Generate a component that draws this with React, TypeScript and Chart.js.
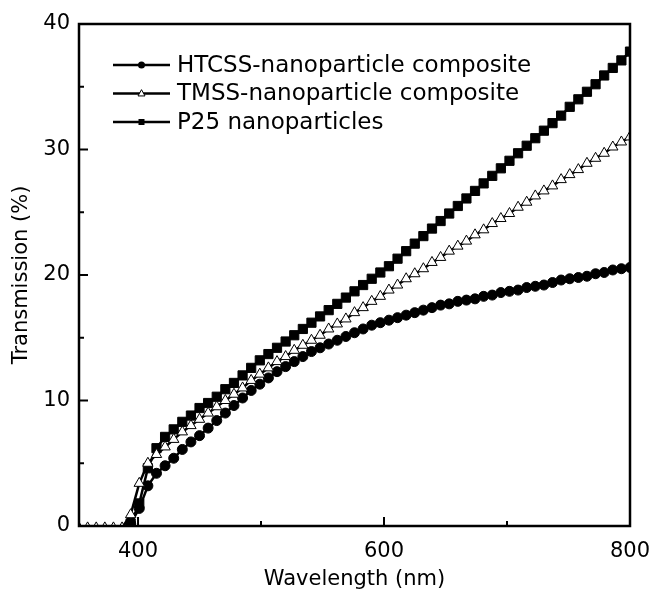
import React, { useEffect, useRef } from 'react';
import { Chart, registerables } from 'chart.js';

Chart.register(...registerables);

const FONT = '"DejaVu Sans", "Liberation Sans", Arial, sans-serif';

const wavelengths = [
  352, 359, 366, 373, 380, 387, 394, 401, 408, 415, 422, 429, 436, 443, 450, 457,
  464, 471, 478, 485, 492, 499, 506, 513, 520, 527, 534, 541, 548, 555, 562, 569,
  576, 583, 590, 597, 604, 611, 618, 625, 632, 639, 646, 653, 660, 667, 674, 681,
  688, 695, 702, 709, 716, 723, 730, 737, 744, 751, 758, 765, 772, 779, 786, 793, 800,
];

const htcss = [
  -0.4, -0.4, -0.4, -0.4, -0.4, -0.4, 0.2, 1.4, 3.2, 4.2, 4.8, 5.4, 6.1, 6.7, 7.2, 7.8,
  8.4, 9.0, 9.6, 10.2, 10.8, 11.3, 11.8, 12.3, 12.7, 13.1, 13.5, 13.9, 14.2, 14.5, 14.8, 15.1,
  15.4, 15.7, 16.0, 16.2, 16.4, 16.6, 16.8, 17.0, 17.2, 17.4, 17.6, 17.7, 17.9, 18.0, 18.1, 18.3,
  18.4, 18.6, 18.7, 18.8, 19.0, 19.1, 19.2, 19.4, 19.6, 19.7, 19.8, 19.9, 20.1, 20.2, 20.4, 20.5, 20.6,
];

const tmss = [
  -0.15, -0.15, -0.15, -0.15, -0.15, -0.15, 0.9, 3.4, 5.0, 5.7, 6.3, 6.9, 7.5, 8.0, 8.5, 9.0,
  9.5, 10.0, 10.5, 11.0, 11.6, 12.1, 12.6, 13.1, 13.5, 14.0, 14.4, 14.8, 15.2, 15.7, 16.1, 16.5,
  17.0, 17.4, 17.9, 18.3, 18.8, 19.2, 19.7, 20.1, 20.5, 21.0, 21.4, 21.9, 22.3, 22.7, 23.2, 23.6,
  24.1, 24.5, 24.9, 25.4, 25.8, 26.3, 26.7, 27.1, 27.6, 28.0, 28.4, 28.9, 29.3, 29.7, 30.2, 30.6, 31.0,
];

const p25 = [
  -0.4, -0.4, -0.4, -0.4, -0.4, -0.4, 0.2, 1.8, 4.6, 6.2, 7.1, 7.7, 8.3, 8.8, 9.4, 9.8,
  10.3, 10.9, 11.4, 12.0, 12.6, 13.2, 13.7, 14.2, 14.7, 15.2, 15.7, 16.2, 16.7, 17.2, 17.7, 18.2,
  18.7, 19.2, 19.7, 20.2, 20.7, 21.3, 21.9, 22.5, 23.1, 23.7, 24.3, 24.9, 25.5, 26.1, 26.7, 27.3,
  27.9, 28.5, 29.1, 29.7, 30.3, 30.9, 31.5, 32.1, 32.7, 33.4, 34.0, 34.6, 35.2, 35.9, 36.5, 37.1, 37.8,
];

const seriesNames = [
  'HTCSS-nanoparticle composite',
  'TMSS-nanoparticle composite',
  'P25 nanoparticles',
];

const xMajorTicks = [400, 600, 800];
const xMinorTicks = [500, 700];
const yMajorTicks = [0, 10, 20, 30, 40];
const yMinorTicks = [5, 15, 25, 35];

function drawMarker(ctx: CanvasRenderingContext2D, style: string, x: number, y: number, r: number) {
  ctx.beginPath();
  if (style === 'circle') {
    ctx.arc(x, y, r, 0, Math.PI * 2);
    ctx.fillStyle = '#000';
    ctx.fill();
  } else if (style === 'rect') {
    ctx.fillStyle = '#000';
    ctx.fillRect(x - r, y - r, 2 * r, 2 * r);
  } else {
    ctx.moveTo(x, y - r * 1.1);
    ctx.lineTo(x + r, y + r * 0.7);
    ctx.lineTo(x - r, y + r * 0.7);
    ctx.closePath();
    ctx.fillStyle = '#fff';
    ctx.fill();
    ctx.lineWidth = 1;
    ctx.strokeStyle = '#000';
    ctx.stroke();
  }
}

const framePlugin = {
  id: 'frameTicksLegend',
  afterDatasetsDraw(chart: any) {
    const { ctx, chartArea: a, scales } = chart;
    ctx.save();
    ctx.strokeStyle = '#000';
    ctx.lineWidth = 2;
    const xs = scales.x;
    const ys = scales.y;
    const xTick = (vals: number[], len: number) =>
      vals.forEach((v) => {
        const px = xs.getPixelForValue(v);
        ctx.beginPath();
        ctx.moveTo(px, a.bottom);
        ctx.lineTo(px, a.bottom - len);
        ctx.stroke();
      });
    const yTick = (vals: number[], len: number) =>
      vals.forEach((v) => {
        const py = ys.getPixelForValue(v);
        ctx.beginPath();
        ctx.moveTo(a.left, py);
        ctx.lineTo(a.left + len, py);
        ctx.stroke();
      });
    xTick(xMajorTicks, 9);
    xTick(xMinorTicks, 5);
    yTick(yMajorTicks, 9);
    yTick(yMinorTicks, 5);
    ctx.lineWidth = 2.5;
    ctx.strokeRect(a.left, a.top, a.right - a.left, a.bottom - a.top);

    // legend
    const styles = ['circle', 'triangle', 'rect'];
    const rows = [65, 93.5, 122];
    chart.data.datasets.forEach((ds: any, i: number) => {
      const y = rows[i];
      ctx.lineWidth = 2.5;
      ctx.strokeStyle = '#000';
      ctx.beginPath();
      ctx.moveTo(113, y);
      ctx.lineTo(170, y);
      ctx.stroke();
      drawMarker(ctx, styles[i], 141.5, y, styles[i] === 'rect' ? 3 : 3.5);
      ctx.fillStyle = '#000';
      ctx.font = `23px ${FONT}`;
      ctx.textBaseline = 'middle';
      ctx.textAlign = 'left';
      ctx.fillText(ds.label, 177, y + 1);
    });
    ctx.restore();
  },
};

export default function App() {
  const ref = useRef<HTMLCanvasElement>(null);
  useEffect(() => {
    if (!ref.current) return;
    const toXY = (ys: number[]) => wavelengths.map((x, i) => ({ x, y: ys[i] }));
    const font = { family: FONT, size: 21 };
    const chart = new Chart(ref.current, {
      type: 'line',
      data: {
        datasets: [
          {
            label: seriesNames[0],
            data: toXY(htcss),
            borderColor: '#000',
            borderWidth: 2.5,
            pointStyle: 'circle',
            pointRadius: 5,
            pointBackgroundColor: '#000',
            pointBorderColor: '#000',
            pointBorderWidth: 1,
            order: 2,
            clip: 0,
          },
          {
            label: seriesNames[1],
            data: toXY(tmss),
            borderColor: '#000',
            borderWidth: 2.5,
            pointStyle: 'triangle',
            pointRadius: 6,
            pointBackgroundColor: '#fff',
            pointBorderColor: '#000',
            pointBorderWidth: 1,
            order: 0,
            clip: 0,
          },
          {
            label: seriesNames[2],
            data: toXY(p25),
            borderColor: '#000',
            borderWidth: 2.5,
            pointStyle: 'rect',
            pointRadius: 6.5,
            pointBackgroundColor: '#000',
            pointBorderColor: '#000',
            pointBorderWidth: 1,
            order: 1,
            clip: 0,
          },
        ] as any,
      },
      options: {
        responsive: false,
        animation: false,
        events: [],
        layout: { padding: { top: 24, right: 21, bottom: 0, left: 0 } },
        plugins: { legend: { display: false }, tooltip: { enabled: false } },
        scales: {
          x: {
            type: 'linear',
            min: 352,
            max: 800,
            afterBuildTicks: (s: any) => {
              s.ticks = xMajorTicks.map((v) => ({ value: v }));
            },
            afterFit: (s: any) => {
              s.height = 67;
              s.paddingLeft = 0;
              s.paddingRight = 0;
            },
            grid: { display: false, drawTicks: false },
            border: { display: false },
            ticks: { color: '#000', font, padding: 13, maxRotation: 0, autoSkip: false },
            title: {
              display: true,
              text: 'Wavelength (nm)',
              color: '#000',
              font,
              padding: { top: 0, bottom: 1 },
            },
          },
          y: {
            type: 'linear',
            min: 0,
            max: 40,
            afterBuildTicks: (s: any) => {
              s.ticks = yMajorTicks.map((v) => ({ value: v }));
            },
            afterFit: (s: any) => {
              s.width = 79;
              s.paddingTop = 0;
              s.paddingBottom = 0;
            },
            grid: { display: false, drawTicks: false },
            border: { display: false },
            ticks: { color: '#000', font, padding: 9, autoSkip: false },
            title: {
              display: true,
              text: 'Transmission (%)',
              color: '#000',
              font,
              padding: { top: 9, bottom: 0 },
            },
          },
        },
      } as any,
      plugins: [framePlugin],
    });
    return () => chart.destroy();
  }, []);
  return (
    <div style={{ position: 'absolute', left: 0, top: 0, width: 651, height: 593, background: '#fff' }}>
      <canvas ref={ref} width={651} height={593} style={{ display: 'block' }} />
    </div>
  );
}
